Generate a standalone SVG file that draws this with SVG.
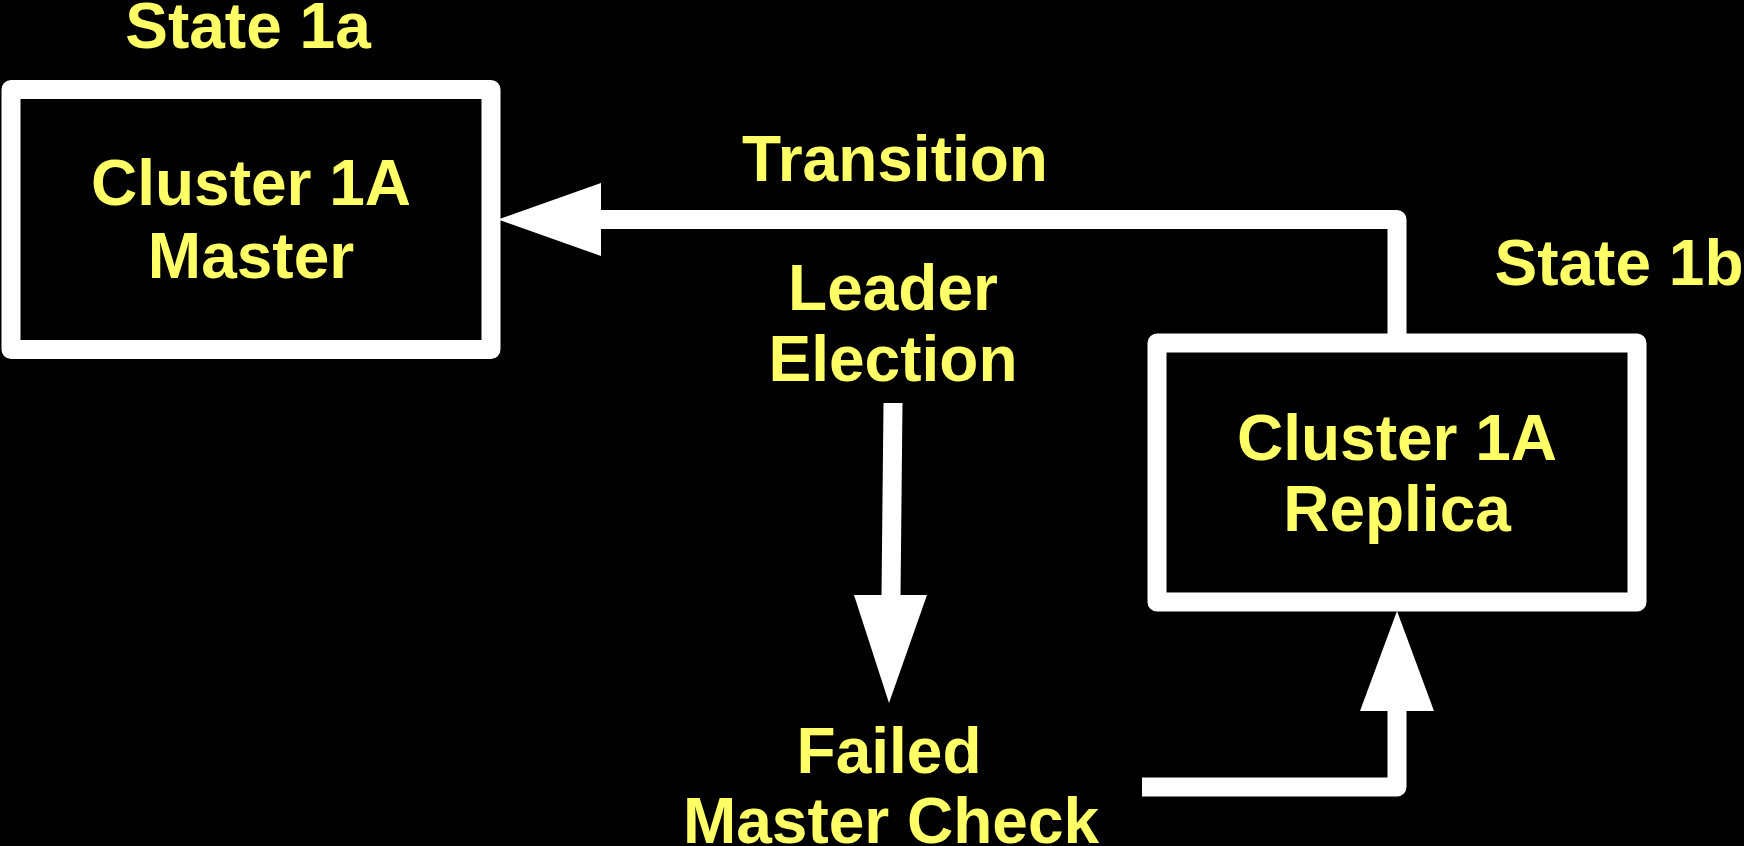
<svg xmlns="http://www.w3.org/2000/svg" width="1744" height="846" viewBox="0 0 1744 846">
<style>
.box{fill:#000;stroke:#fff;stroke-width:19;stroke-linejoin:round}
.t{font-family:"Liberation Sans",Arial,sans-serif;font-weight:bold;font-size:64px;fill:#ffff66;text-anchor:middle}
.ln{fill:none;stroke:#fff;stroke-width:19;stroke-linejoin:round;stroke-linecap:butt}
.ah{fill:#fff;stroke:none}
</style>
<rect width="1744" height="846" fill="#000"/>
<g id="connectors">
<polyline class="ln" points="1397,334 1397,219.5 600,219.5"/>
<polygon class="ah" points="498,219.5 601,183 601,256"/>
<line class="ln" x1="893" y1="403" x2="891" y2="597"/>
<polygon class="ah" points="854,595 927,595 889,703"/>
<polyline class="ln" points="1142,787 1397,787 1397,709"/>
<polygon class="ah" points="1397,611 1360,711 1434,711"/>
</g>
<g id="master">
<rect class="box" x="11" y="89.5" width="480" height="260"/>
<text class="t" x="251" y="205">Cluster 1A</text>
<text class="t" x="251" y="278">Master</text>
</g>
<g id="replica">
<rect class="box" x="1157" y="343" width="480" height="259"/>
<text class="t" x="1397" y="460">Cluster 1A</text>
<text class="t" x="1397" y="531">Replica</text>
</g>
<g id="labels">
<text class="t" x="248" y="48">State 1a</text>
<text class="t" x="1619" y="285">State 1b</text>
<text class="t" x="895" y="181">Transition</text>
<text class="t" x="893" y="310">Leader</text>
<text class="t" x="893" y="381">Election</text>
<text class="t" x="889" y="773">Failed</text>
<text class="t" x="891" y="843">Master Check</text>
</g>
</svg>
